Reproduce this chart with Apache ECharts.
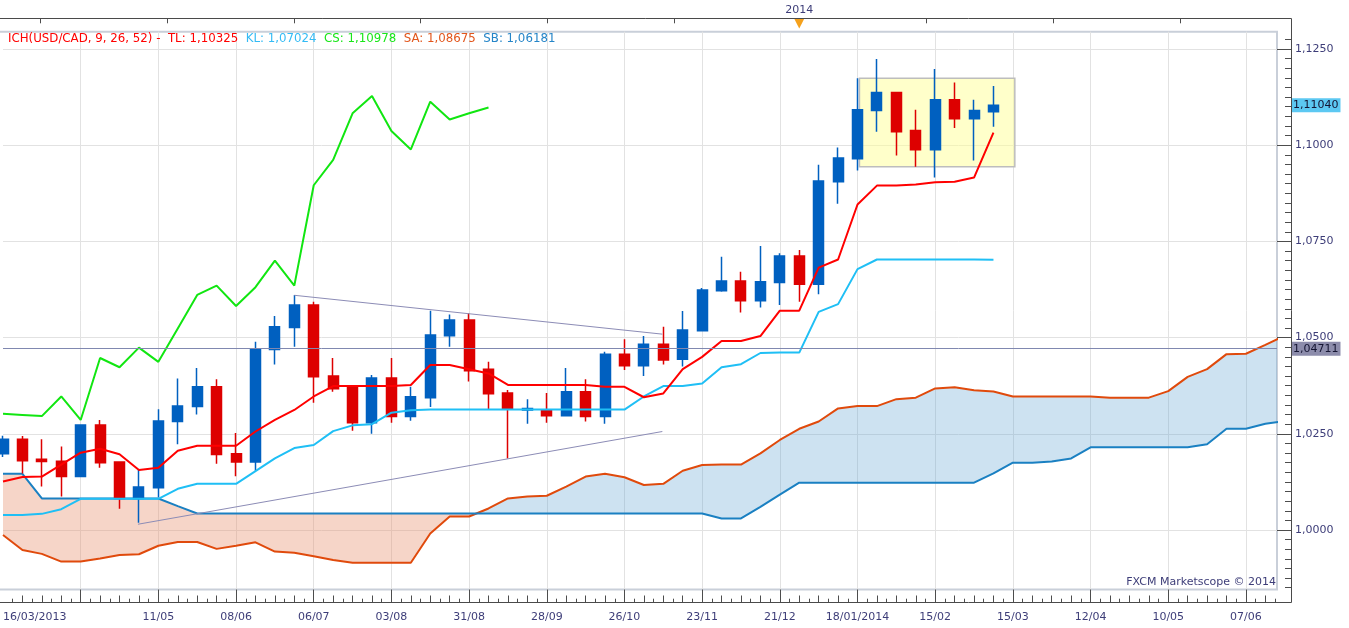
<!DOCTYPE html>
<html>
<head>
<meta charset="utf-8">
<script src="https://cdn.jsdelivr.net/npm/echarts@6/dist/echarts.min.js"></script>
<style>
html,body{margin:0;padding:0;background:#ffffff;}
#chart{width:1349px;height:628px;}
</style>
</head>
<body>
<div id="chart"></div>
<script>
// ---- week index 0 = 16/03/2013 (weekly candles) ----
const xLabelIdx  = [0, 8, 12, 16, 20, 24, 28, 32, 36, 40, 44, 48, 52, 56, 60, 64];
const xLabelText = ['16/03/2013','11/05','08/06','06/07','03/08','31/08','28/09','26/10','23/11','21/12','18/01/2014','15/02','15/03','12/04','10/05','07/06'];
const xGridIdx   = [4, 8, 12, 16, 20, 24, 28, 32, 36, 40, 44, 48, 52, 56, 60, 64];
const topTickIdx = [1.9, 8.45, 15, 21.5, 28, 34.55, 41.05, 47.55, 54.1, 60.6];
const yearMarkIdx = [41.0];
const yearMarkText = ['2014'];
const yMajorTicks = [1.0, 1.025, 1.05, 1.075, 1.1, 1.125];

// ---- candles (open, close, low, high) ----
const candleOpen = [1.0198,1.0236,1.0184,1.0179,1.0139,1.0273,1.0177,1.0082,1.0110,1.0282,
  1.0321,1.0372,1.0198,1.0177,1.0469,1.0526,1.0585,1.0400,1.0375,1.0279,
  1.0395,1.0295,1.0344,1.0505,1.0546,1.0418,1.0356,1.0312,1.0310,1.0297,
  1.0359,1.0295,1.0457,1.0427,1.0483,1.0444,1.0518,1.0622,1.0647,1.0596,
  1.0643,1.0712,1.0639,1.0905,1.0965,1.1090,1.1137,1.1038,1.0988,1.1118,
  1.1069,1.1087];
const candleClose = [1.0236,1.0180,1.0178,1.0139,1.0273,1.0175,1.0082,1.0112,1.0283,1.0322,
  1.0372,1.0196,1.0177,1.0471,1.0528,1.0585,1.0398,1.0367,1.0279,1.0395,
  1.0295,1.0346,1.0507,1.0546,1.0414,1.0354,1.0314,1.0316,1.0297,1.0359,
  1.0295,1.0457,1.0427,1.0483,1.0442,1.0520,1.0624,1.0647,1.0596,1.0645,
  1.0712,1.0639,1.0907,1.0967,1.1092,1.1137,1.1035,1.0988,1.1118,1.1069,
  1.1090,1.1104];
const candleLow = [1.0190,1.0147,1.0113,1.0087,1.0139,1.0162,1.0055,1.0019,1.0085,1.0223,
  1.0300,1.0172,1.0140,1.0154,1.0430,1.0476,1.0331,1.0359,1.0258,1.0250,
  1.0279,1.0284,1.0320,1.0476,1.0386,1.0314,1.0186,1.0276,1.0279,1.0295,
  1.0282,1.0276,1.0416,1.0400,1.0430,1.0425,1.0518,1.0619,1.0565,1.0578,
  1.0585,1.0593,1.0613,1.0848,1.0934,1.1035,1.0973,1.0944,1.0916,1.1045,
  1.0960,1.1048];
const candleHigh = [1.0245,1.0244,1.0236,1.0217,1.0275,1.0286,1.0178,1.0156,1.0314,1.0394,
  1.0421,1.0392,1.0252,1.0489,1.0556,1.0611,1.0593,1.0447,1.0376,1.0403,
  1.0447,1.0372,1.0570,1.0560,1.0563,1.0437,1.0364,1.0340,1.0356,1.0421,
  1.0392,1.0463,1.0496,1.0504,1.0528,1.0569,1.0629,1.0710,1.0671,1.0738,
  1.0719,1.0728,1.0949,1.0994,1.1174,1.1224,1.1137,1.1092,1.1198,1.1163,
  1.1118,1.1154];

// ---- Ichimoku lines ----
const tenkan = [1.0126,1.0138,1.0139,1.0170,1.0201,1.0211,1.0197,1.0156,1.0162,1.0206,
  1.0219,1.0219,1.0219,1.0256,1.0286,1.0312,1.0347,1.0374,1.0374,1.0374,
  1.0374,1.0377,1.0429,1.0429,1.0418,1.0407,1.0377,1.0377,1.0377,1.0377,
  1.0377,1.0372,1.0372,1.0345,1.0355,1.0418,1.0450,1.0491,1.0491,1.0504,
  1.0570,1.0570,1.0682,1.0703,1.0846,1.0895,1.0895,1.0898,1.0904,1.0905,
  1.0916,1.10325];
const kijun = [1.0039,1.0039,1.0042,1.0054,1.0081,1.0081,1.0081,1.0081,1.0081,1.0107,
  1.0120,1.0120,1.0120,1.0153,1.0186,1.0213,1.0221,1.0257,1.0272,1.0275,
  1.0305,1.0311,1.0313,1.0313,1.0313,1.0313,1.0313,1.0313,1.0313,1.0313,
  1.0313,1.0313,1.0313,1.0347,1.0374,1.0374,1.0381,1.0423,1.0431,1.0460,
  1.0461,1.0461,1.0567,1.0587,1.0678,1.0703,1.0703,1.0703,1.0703,1.0703,
  1.0703,1.07024];
const chikou = [1.0302,1.0299,1.0296,1.0347,1.0286,1.0447,1.0423,1.0474,1.0437,1.0524,
  1.0611,1.0635,1.0582,1.0631,1.0700,1.0635,1.0896,1.0962,1.1083,1.1128,
  1.1037,1.0989,1.1113,1.1067,1.1083,1.1098];
const senkouA = [0.9987,0.9948,0.9938,0.9918,0.9918,0.9926,0.9935,0.9937,0.9959,0.9969,
  0.9969,0.9951,0.9959,0.9968,0.9944,0.9941,0.9932,0.9922,0.9915,0.9915,
  0.9915,0.9915,0.9991,1.0035,1.0035,1.0056,1.0082,1.0087,1.0089,1.0113,
  1.0139,1.0146,1.0137,1.0117,1.0120,1.0154,1.0169,1.0170,1.0170,1.0199,
  1.0234,1.0263,1.0282,1.0316,1.0322,1.0322,1.0340,1.0344,1.0368,1.0371,
  1.0363,1.0360,1.0347,1.0347,1.0347,1.0347,1.0347,1.0344,1.0344,1.0344,
  1.0361,1.0398,1.0418,1.0457,1.0458,1.0481,1.0505];
const senkouB = [1.0146,1.0146,1.0082,1.0082,1.0082,1.0082,1.0082,1.0082,1.0082,1.0062,
  1.0043,1.0043,1.0043,1.0043,1.0043,1.0043,1.0043,1.0043,1.0043,1.0043,
  1.0043,1.0043,1.0043,1.0043,1.0043,1.0043,1.0043,1.0043,1.0043,1.0043,
  1.0043,1.0043,1.0043,1.0043,1.0043,1.0043,1.0043,1.0030,1.0030,1.0060,
  1.0092,1.0123,1.0123,1.0123,1.0123,1.0123,1.0123,1.0123,1.0123,1.0123,
  1.0123,1.0147,1.0175,1.0175,1.0178,1.0186,1.0215,1.0215,1.0215,1.0215,
  1.0215,1.0215,1.0223,1.0263,1.0263,1.0276,1.0283];

// ---- drawings ----
const trendUpper = [[15.0, 1.0610], [33.95, 1.0509]];
const trendLower = [[6.95, 1.0015], [33.95, 1.0256]];
const rangeBox = [[44.1, 1.1174], [52.1, 1.0944]];
const hLineLevel = 1.04711;
const lastPrice = 1.1104;

// ---- header values ----
const legendNames  = ['TL', 'KL', 'CS', 'SA', 'SB'];
const legendValues = ['1,10325', '1,07024', '1,10978', '1,08675', '1,06181'];

const FONT = 'DejaVu Sans';
const LBL = '#3d3d78';
const TICK = '#4d4d4d';
const X_MIN = 0, X_MAX = 65.6;
const Y_MIN = 0.98454, Y_MAX = 1.1295;

function fmt4(v) { return v.toFixed(4).replace('.', ','); }
function fmt5(v) { return v.toFixed(5).replace('.', ','); }

const weekTicks = [];
const halfWeekTicks = [];
for (let i = 1; i <= 65; i++) { if (i % 4 !== 0) weekTicks.push(i); }
for (let i = 0; i <= 65; i++) { halfWeekTicks.push(i + 0.5); }
const yMinorTicks = [];
for (let k = 0; k <= 57; k++) { yMinorTicks.push(+(0.985 + k * 0.0025).toFixed(4)); }

const toXY = arr => arr.map((v, i) => [i, v]);
const candleData = candleOpen.map((o, i) => [i, o, candleClose[i], candleLow[i], candleHigh[i]]);

function renderCloud(params, api) {
  if (params.dataIndex !== 0) return null;
  const cs = params.coordSys;
  const runs = [];
  let cur = null;
  const start = (s) => { cur = { sign: s, top: [], bot: [] }; runs.push(cur); };
  for (let i = 0; i < senkouA.length; i++) {
    const d = senkouA[i] - senkouB[i];
    const s = d >= 0 ? 1 : -1;
    if (i === 0) start(s);
    else if (s !== cur.sign) {
      const dp = senkouA[i - 1] - senkouB[i - 1];
      const t = dp / (dp - d);
      const xc = i - 1 + t;
      const yc = senkouA[i - 1] + t * (senkouA[i] - senkouA[i - 1]);
      const pc = api.coord([xc, yc]);
      cur.top.push(pc); cur.bot.push(pc);
      start(s);
      cur.top.push(pc); cur.bot.push(pc);
    }
    cur.top.push(api.coord([i, senkouA[i]]));
    cur.bot.push(api.coord([i, senkouB[i]]));
  }
  const children = runs.map(r => ({
    type: 'polygon',
    shape: { points: r.top.concat(r.bot.slice().reverse()) },
    style: { fill: r.sign > 0 ? 'rgba(102,168,212,0.33)' : 'rgba(232,144,111,0.38)', stroke: null }
  }));
  return {
    type: 'group',
    children: children,
    clipPath: { type: 'rect', shape: { x: cs.x, y: cs.y, width: cs.width, height: cs.height } }
  };
}

const legendColors = { ich: '#ff0000', tl: '#ff0000', kl: '#33bbf5', cs: '#19e619', sa: '#e2561c', sb: '#2585c8' };
const LEG_SIZE = 11.8;
const legendRich = {};
Object.keys(legendColors).forEach(k => { legendRich[k] = { color: legendColors[k], fontFamily: FONT, fontSize: LEG_SIZE }; });
const legendText = '{ich|ICH(USD/CAD, 9, 26, 52) -}  ' +
  legendNames.map((n, i) => '{' + n.toLowerCase() + '|' + n + ': ' + legendValues[i] + '}').join('  ');

const chart = echarts.init(document.getElementById('chart'), null, { renderer: 'canvas' });

const noZero = { show: false, onZero: false };

const option = {
  animation: false,
  backgroundColor: '#ffffff',
  title: [
    { left: 8, top: 33, padding: 0, text: legendText,
      textStyle: { fontFamily: FONT, fontSize: LEG_SIZE, fontWeight: 'normal', color: '#ff0000', rich: legendRich } },
    { right: 73, top: 577, padding: 0, text: 'FXCM Marketscope © 2014',
      textStyle: { fontFamily: FONT, fontSize: 11, fontWeight: 'normal', color: LBL } }
  ],
  grid: { left: 0, right: 72, top: 31.7, bottom: 38.5, show: false },
  xAxis: [
    { type: 'value', min: X_MIN, max: X_MAX, position: 'bottom', offset: 12.5,
      axisLine: noZero,
      axisTick: { show: true, inside: true, length: 12.5, customValues: xGridIdx, lineStyle: { color: TICK, width: 1 } },
      axisLabel: { show: true, customValues: xLabelIdx, alignMinLabel: 'left', hideOverlap: false,
        formatter: v => xLabelText[xLabelIdx.indexOf(Math.round(v))] || '',
        color: LBL, fontFamily: FONT, fontSize: 11, margin: 10 },
      splitLine: { show: true, lineStyle: { color: '#e2e2e2', width: 1 } } },
    { type: 'value', min: X_MIN, max: X_MAX, position: 'bottom', offset: 12.5,
      axisLine: noZero, axisLabel: { show: false }, splitLine: { show: false },
      axisTick: { show: true, inside: true, length: 6.5, customValues: weekTicks, lineStyle: { color: TICK, width: 1 } } },
    { type: 'value', min: X_MIN, max: X_MAX, position: 'bottom', offset: 12.5,
      axisLine: noZero, axisLabel: { show: false }, splitLine: { show: false },
      axisTick: { show: true, inside: true, length: 3.3, customValues: halfWeekTicks, lineStyle: { color: TICK, width: 1 } } },
    { type: 'value', min: X_MIN, max: X_MAX, position: 'top', offset: 13.4,
      axisLine: noZero, splitLine: { show: false },
      axisTick: { show: true, inside: true, length: 5, customValues: topTickIdx, lineStyle: { color: TICK, width: 1 } },
      axisLabel: { show: true, customValues: yearMarkIdx, formatter: () => yearMarkText[0],
        color: LBL, fontFamily: FONT, fontSize: 11, margin: 3 } },
    { type: 'value', min: X_MIN, max: X_MAX, position: 'top', offset: 13.4,
      axisLine: noZero, splitLine: { show: false }, axisTick: { show: false },
      axisLabel: { show: true, inside: true, customValues: yearMarkIdx, formatter: () => '\u25BC',
        color: '#f5a11c', fontFamily: FONT, fontSize: 13, margin: -1 } }
  ],
  yAxis: [
    { type: 'value', min: Y_MIN, max: Y_MAX, position: 'right', offset: 14,
      axisLine: noZero,
      axisTick: { show: true, inside: true, length: 14, customValues: yMajorTicks, lineStyle: { color: TICK, width: 1 } },
      axisLabel: { show: true, inside: false, customValues: yMajorTicks, formatter: v => fmt4(v),
        color: LBL, fontFamily: FONT, fontSize: 11, margin: 4 },
      splitLine: { show: true, lineStyle: { color: '#e2e2e2', width: 1 } } },
    { type: 'value', min: Y_MIN, max: Y_MAX, position: 'right', offset: 14,
      axisLine: noZero, axisLabel: { show: false }, splitLine: { show: false },
      axisTick: { show: true, inside: true, length: 6, customValues: yMinorTicks, lineStyle: { color: TICK, width: 1 } } }
  ],
  graphic: [
    { type: 'rect', silent: true, z: 0,
      shape: { x: -3, y: 31.7, width: 1280, height: 557.8 },
      style: { stroke: '#c9cfd9', lineWidth: 2, fill: null } },
    { type: 'polyline', silent: true, z: 100,
      shape: { points: [[0, 18.5], [1291.5, 18.5], [1291.5, 602.5], [0, 602.5]] },
      style: { stroke: '#4a4a4a', lineWidth: 1, fill: null } }
  ],
  series: [
    { name: 'cloud', type: 'custom', z: 1, silent: true, clip: true,
      data: senkouA.map((a, i) => [i, a, senkouB[i]]),
      encode: { x: 0, y: [1, 2] },
      renderItem: renderCloud },
    { name: 'SA', type: 'line', z: 2, silent: true, symbol: 'none', data: toXY(senkouA),
      lineStyle: { color: '#e04a0c', width: 2 } },
    { name: 'SB', type: 'line', z: 2, silent: true, symbol: 'none', data: toXY(senkouB),
      lineStyle: { color: '#1a80c2', width: 2 } },
    { name: 'candles', type: 'candlestick', z: 3, silent: true, data: candleData,
      barWidth: 10.5,
      itemStyle: { color: '#0060c0', color0: '#dd0000', borderColor: '#0060c0', borderColor0: '#dd0000', borderWidth: 1.5 } },
    { name: 'trendUpper', type: 'line', z: 4, silent: true, symbol: 'none', data: trendUpper,
      lineStyle: { color: '#8c8cb6', width: 1 } },
    { name: 'trendLower', type: 'line', z: 4, silent: true, symbol: 'none', data: trendLower,
      lineStyle: { color: '#8c8cb6', width: 1 },
      markArea: { silent: true, z: 1,
        itemStyle: { color: 'rgba(255,255,150,0.5)', borderColor: '#bdbdbd', borderWidth: 1.5 },
        data: [[{ coord: rangeBox[0] }, { coord: rangeBox[1] }]] } },
    { name: 'CS', type: 'line', z: 5, silent: true, symbol: 'none', data: toXY(chikou),
      lineStyle: { color: '#11e611', width: 2 } },
    { name: 'KL', type: 'line', z: 5, silent: true, symbol: 'none', data: toXY(kijun),
      lineStyle: { color: '#1fbff5', width: 2 } },
    { name: 'TL', type: 'line', z: 5, silent: true, symbol: 'none', data: toXY(tenkan),
      lineStyle: { color: '#ff0000', width: 2 },
      markLine: { silent: true, symbol: ['none', 'none'], z: 6, precision: 5,
        data: [
          { yAxis: hLineLevel, lineStyle: { color: '#8088b0', width: 1, type: 'solid' },
            label: { show: true, position: 'end', distance: 14, formatter: () => fmt5(hLineLevel),
              backgroundColor: '#8c8cab', color: '#141432', padding: [2, 2, 1, 2], fontFamily: FONT, fontSize: 11 } },
          { yAxis: lastPrice, lineStyle: { color: 'rgba(0,0,0,0)', width: 0 },
            label: { show: true, position: 'end', distance: 14, formatter: () => fmt5(lastPrice),
              backgroundColor: '#5cc8f2', color: '#141432', padding: [2, 2, 1, 2], fontFamily: FONT, fontSize: 11 } }
        ] } }
  ]
};

chart.setOption(option);
</script>
</body>
</html>
